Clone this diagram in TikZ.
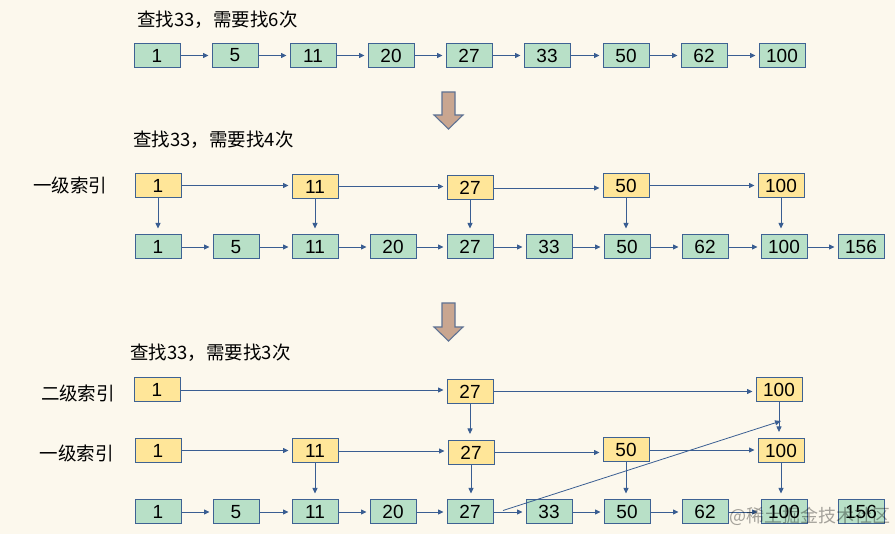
\documentclass[tikz,border=0pt]{standalone}
\usepackage{fontspec}
\setmainfont{Liberation Sans}
\newfontfamily\cjk{Noto Sans CJK SC}
\usetikzlibrary{arrows.meta}
\definecolor{bgc}{HTML}{FCF8ED}
\definecolor{grn}{HTML}{B8E0C7}
\definecolor{ylw}{HTML}{FFE699}
\definecolor{edg}{HTML}{3E6293}
\definecolor{arr}{HTML}{3A5E92}
\definecolor{bigf}{HTML}{C9A690}
\definecolor{bige}{HTML}{5F7394}
\tikzset{
  x=1pt, y=-1pt,
  cell/.style={draw=edg, line width=1pt, minimum width=46pt, minimum height=24pt, inner sep=0pt, font=\fontsize{19}{19}\selectfont},
  gcell/.style={cell, fill=grn},
  ycell/.style={cell, fill=ylw},
  link/.style={draw=arr, line width=0.8pt, -{Triangle[length=5.5pt,width=5pt]}, shorten >=3pt},
  vlink/.style={draw=arr, line width=0.8pt, -{Triangle[length=5.5pt,width=5pt]}, shorten >=6pt},
  ttl/.style={anchor=west, inner sep=0pt, font=\cjk\fontsize{18.5}{19}\selectfont},
  lbl/.style={inner sep=0pt, font=\cjk\fontsize{18.5}{19}\selectfont},
  bigarrow/.style={fill=bigf, draw=bige, line width=1.1pt, line join=miter}
}
\begin{document}
\begin{tikzpicture}
\fill[bgc] (0,0) rectangle (895,534);
\useasboundingbox (0,0) rectangle (895,534);

% ---------- Top section ----------
\node[ttl] (t1) at (137,20) {查找33，需要找6次};
\foreach \v/\x in {1/157,5/235,11/313,20/391,27/469,33/547,50/626,62/704,100/782}
  \node[gcell] (a\v) at (\x,55.5) {\v};
\foreach \p/\q in {1/5,5/11,11/20,20/27,27/33,33/50,50/62,62/100}
  \draw[link] (a\p.east) -- (a\q.west);

\draw[bigarrow] (442,92) -- (455,92) -- (455,115) -- (463,115) -- (448.5,129) -- (434,115) -- (442,115) -- cycle;

% ---------- Middle section ----------
\node[ttl] (t2) at (133,140) {查找33，需要找4次};
\node[lbl] (l1) at (70,185.5) {一级索引};
\node[ycell] (b1) at (158,185.5) {1};
\node[ycell] (b11) at (315,186.5) {11};
\node[ycell] (b27) at (470,188) {27};
\node[ycell] (b50) at (626,185.5) {50};
\node[ycell] (b100) at (781,185.5) {100};
\foreach \v/\x in {1/158,5/236,11/315,20/393,27/470,33/549,50/627,62/705,100/784,156/861}
  \node[gcell] (c\v) at (\x,247) {\v};
\foreach \p/\q in {1/11,11/27,27/50,50/100}
  \draw[link] (b\p.east) -- (b\p.east -| b\q.west);
\foreach \p/\q in {1/5,5/11,11/20,20/27,27/33,33/50,50/62,62/100,100/156}
  \draw[link] (c\p.east) -- (c\q.west);
\foreach \v in {1,11,27,50,100}
  \draw[vlink] (b\v.south) -- (b\v.south |- c\v.north);

\draw[bigarrow] (442,303) -- (455,303) -- (455,327) -- (463,327) -- (448.5,341) -- (434,327) -- (442,327) -- cycle;

% ---------- Bottom section ----------
\node[ttl] (t3) at (130,353) {查找33，需要找3次};
\node[lbl] (l2) at (78,393) {二级索引};
\node[lbl] (l3) at (76.5,453) {一级索引};
\node[ycell] (d1) at (157,390) {1};
\node[ycell] (d27) at (470,391.5) {27};
\node[ycell] (d100) at (779,390) {100};
\node[ycell] (e1) at (158,450.5) {1};
\node[ycell] (e11) at (315,451) {11};
\node[ycell] (e27) at (471,452.5) {27};
\node[ycell] (e50) at (626,450) {50};
\node[ycell] (e100) at (781,450.5) {100};
\foreach \v/\x in {1/158,5/236,11/315,20/393,27/470,33/549,50/627,62/705,100/784,156/861}
  \node[gcell] (f\v) at (\x,512) {\v};

\draw[link] (d1.east) -- (d1.east -| d27.west);
\draw[link] (d27.east) -- (d27.east -| d100.west);
\foreach \p/\q in {1/11,11/27,27/50,50/100}
  \draw[link] (e\p.east) -- (e\p.east -| e\q.west);
\foreach \p/\q in {1/5,5/11,11/20,20/27,27/33,33/50,50/62,62/100}
  \draw[link] (f\p.east) -- (f\q.west);
\draw[vlink] (d27.south) -- (d27.south |- e27.north);
\draw[vlink] (d100.south) -- (d100.south |- e100.north);
\foreach \v in {11,27,50,100}
  \draw[vlink] (e\v.south) -- (e\v.south |- f\v.north);

\coordinate (ds) at (503,510.5);
\coordinate (de) at (781,421);
\draw[draw=arr, line width=0.8pt, -{Triangle[length=6pt,width=5pt]}] (ds) -- (de);

% watermark
\node[anchor=west, inner sep=0pt, text=black, text opacity=0.35, font=\cjk\fontsize{18}{18}\selectfont] (wm) at (729,516) {@稀土掘金技术社区};
\end{tikzpicture}
\end{document}
